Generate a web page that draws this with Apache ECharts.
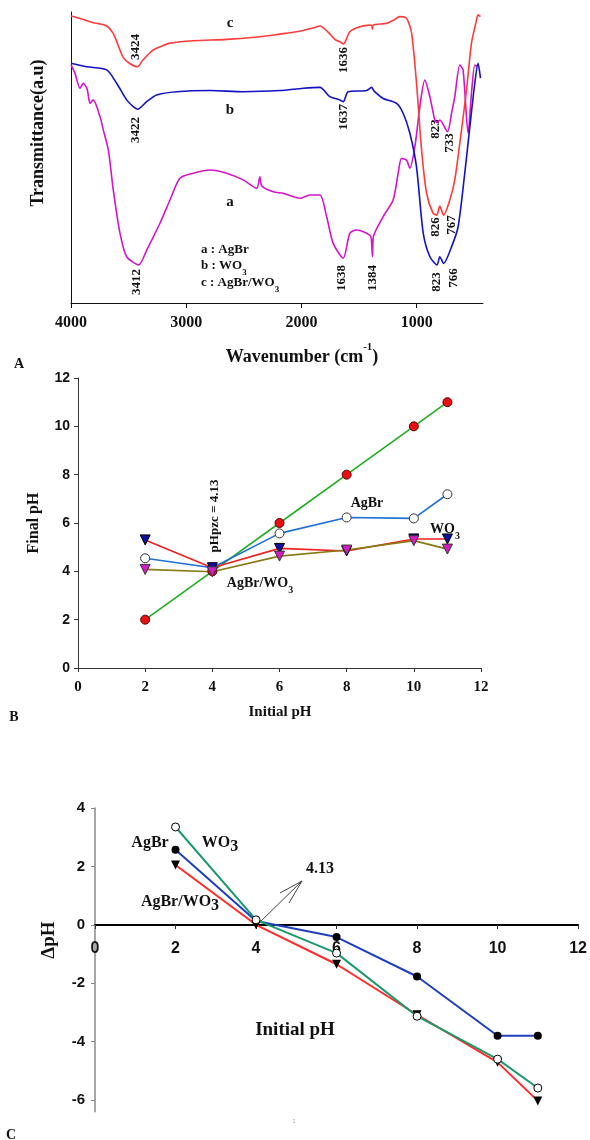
<!DOCTYPE html>
<html lang="en">
<head>
  <meta charset="UTF-8" />
  <title>FTIR spectra and pHpzc of AgBr, WO3 and AgBr/WO3</title>
  <script src="https://cdn.jsdelivr.net/npm/echarts@6/dist/echarts.min.js"></script>
  <style>
    html, body { margin: 0; padding: 0; background: #fff; }
    #chart { width: 590px; height: 1140px; }
  </style>
</head>
<body>
  <div id="chart"></div>
  <script>
    // ---- panel A: FTIR spectra, [wavenumber, transmittance (a.u.)] ----
    var specAgBr = [[4000,81.8],[3965,78.9],[3922,73.8],[3893,75.5],[3860,73.5],[3835,68.6],[3807,69.8],[3748,64.0],[3720,59.5],[3676,52.6],[3633,38.8],[3575,24.0],[3517,15.9],[3412,13.1],[3343,18.2],[3228,27.4],[3141,35.4],[3055,42.9],[2939,44.6],[2794,45.7],[2650,44.6],[2506,42.3],[2389,39.4],[2361,43.4],[2344,40.2],[2245,38.2],[2159,37.7],[2014,36.0],[1927,37.1],[1840,37.1],[1782,29.7],[1725,20.5],[1638,15.4],[1580,24.0],[1522,25.1],[1435,24.0],[1398,22.8],[1384,15.9],[1376,22.8],[1291,29.7],[1205,35.4],[1161,44.6],[1132,49.7],[1088,49.1],[1060,46.3],[1016,53.7],[973,67.5],[930,76.6],[886,70.9],[843,62.9],[823,62.0],[800,62.9],[733,58.9],[698,65.2],[670,70.9],[626,81.8],[598,80.1],[554,58.3],[525,72.1],[496,81.8],[476,81.2]];
    var specWO3 = [[4000,82.4],[3864,81.2],[3690,80.1],[3604,75.5],[3517,69.8],[3460,67.5],[3422,66.6],[3343,69.2],[3257,71.5],[3083,72.6],[2794,73.0],[2506,72.6],[2187,73.0],[1985,73.8],[1840,74.1],[1754,70.9],[1682,70.0],[1637,69.2],[1595,72.6],[1435,73.0],[1392,74.1],[1372,72.9],[1291,70.3],[1175,68.6],[1118,65.2],[1060,58.4],[1002,46.8],[944,24.1],[886,15.9],[823,13.1],[800,15.9],[766,13.6],[698,19.3],[641,26.2],[583,44.7],[539,60.6],[496,75.6],[468,82.4],[447,77.3]];
    var specComp = [[4000,98.6],[3900,97.5],[3807,96.3],[3760,96.0],[3690,95.2],[3636,92.8],[3590,88.5],[3549,84.5],[3490,82.3],[3424,81.2],[3376,83.5],[3289,86.9],[3200,88.5],[3141,89.3],[2942,90.1],[2647,90.6],[2361,91.5],[2187,92.4],[2043,93.2],[1900,94.5],[1840,95.2],[1771,93.2],[1710,90.6],[1660,89.6],[1636,89.0],[1580,93.2],[1494,94.9],[1407,95.5],[1390,95.3],[1384,94.1],[1378,95.5],[1262,96.1],[1200,97.2],[1147,98.4],[1088,97.8],[1045,92.8],[1002,75.6],[958,52.6],[915,37.8],[858,30.8],[826,30.2],[800,33.3],[767,30.2],[713,35.4],[670,42.3],[626,55.0],[568,73.2],[525,89.3],[481,97.3],[468,99.0],[447,98.4]];
    var wnTicks = [4000, 3000, 2000, 1000];

    // ---- panel B: final pH vs initial pH ----
    var initialPH = [2, 4, 6, 8, 10, 11];
    var finalBlank = [2, 4, 6, 8, 10, 11];
    var finalAgBr = [4.54, 4.15, 5.57, 6.23, 6.19, 7.19];
    var finalWO3 = [5.30, 4.15, 4.95, 4.84, 5.34, 5.34];
    var finalComp = [4.08, 3.98, 4.63, 4.88, 5.27, 4.92];

    // ---- panel C: delta pH vs initial pH ----
    var deltaAgBr = [2.57, 0.13, -0.42, -1.77, -3.80, -3.80];
    var deltaWO3 = [3.35, 0.17, -0.97, -3.13, -4.60, -5.59];
    var deltaComp = [2.05, 0.00, -1.35, -3.08, -4.71, -6.03];
    var deltaTicks = [-6, -4, -2, 0, 2, 4];

    var SERIF = '"Liberation Serif", "Times New Roman", serif';
    var SANS = '"Liberation Sans", Arial, sans-serif';

    function pairs(xs, ys) {
      return xs.map(function(x, i) { return [x, ys[i]]; });
    }
    function plain(v) { return String(v); }

    function txt(x, y, text, size, o) {
      o = o || {};
      var style = {
        text: text,
        fontSize: size,
        fontWeight: 'bold',
        fontFamily: o.family || SERIF,
        fill: o.color || '#111',
        align: o.align || 'center',
        textAlign: o.align || 'center',
        verticalAlign: 'middle',
        textVerticalAlign: 'middle'
      };
      if (o.rich) style.rich = o.rich;
      return { type: 'text', x: x, y: y, rotation: o.rot || 0, silent: true, style: style };
    }

    // rich styles for sub/superscripts
    function subRich(size, subSize, drop) {
      return {
        n: { fontSize: size, fontWeight: 'bold', fontFamily: SERIF, lineHeight: size + drop * 2, fill: '#111' },
        s: { fontSize: subSize, fontWeight: 'bold', fontFamily: SERIF, lineHeight: subSize, verticalAlign: 'bottom', fill: '#111' },
        u: { fontSize: subSize, fontWeight: 'bold', fontFamily: SERIF, lineHeight: subSize, verticalAlign: 'top', fill: '#111' }
      };
    }

    function line(x1, y1, x2, y2) {
      return { type: 'line', silent: true, shape: { x1: x1, y1: y1, x2: x2, y2: y2 },
        style: { stroke: '#444', lineWidth: 1 } };
    }

    var UP = Math.PI / 2;
    var r13 = subRich(13, 9, 5);
    var r14 = subRich(14, 10, 5);
    var r16 = subRich(16, 16, 4);
    var r18 = subRich(18, 11, 6);

    var graphics = [
      // panel A
      txt(38, 133, 'Transmittance(a.u)', 18, { rot: UP }),
      txt(302, 357, '{n|Wavenumber (cm}{u|-1}{n|)}', 18, { rich: r18 }),
      txt(19, 364, 'A', 14),
      txt(230, 23, 'c', 15), txt(230, 110, 'b', 15), txt(230, 202, 'a', 15),
      txt(136, 47, '3424', 13, { rot: UP }),
      txt(136, 130, '3422', 13, { rot: UP }),
      txt(137, 282, '3412', 13, { rot: UP }),
      txt(344, 60, '1636', 13, { rot: UP }),
      txt(344, 117, '1637', 13, { rot: UP }),
      txt(342, 278, '1638', 13, { rot: UP }),
      txt(373, 278, '1384', 13, { rot: UP }),
      txt(436, 129, '823', 13, { rot: UP }),
      txt(450, 143, '733', 13, { rot: UP }),
      txt(436, 227, '826', 13, { rot: UP }),
      txt(452, 225, '767', 13, { rot: UP }),
      txt(437, 282, '823', 13, { rot: UP }),
      txt(454, 278, '766', 13, { rot: UP }),
      txt(201, 250, 'a : AgBr', 13, { align: 'left' }),
      txt(201, 266, '{n|b : WO}{s|3}', 13, { align: 'left', rich: r13 }),
      txt(201, 283, '{n|c : AgBr/WO}{s|3}', 13, { align: 'left', rich: r13 }),
      // panel B
      txt(34, 523, 'Final pH', 16, { rot: UP }),
      txt(280, 712, 'Initial pH', 15),
      txt(14, 717, 'B', 14),
      txt(215, 516, 'pHpzc = 4.13', 13, { rot: UP }),
      txt(367, 503, 'AgBr', 14),
      txt(445, 529, '{n|WO}{s|3}', 14, { rich: r14 }),
      txt(260, 583, '{n|AgBr/WO}{s|3}', 14, { rich: r14 }),
      // panel C
      txt(49, 940, '\u0394pH', 19, { rot: UP }),
      txt(295, 1030, 'Initial pH', 19),
      txt(11, 1135, 'C', 14),
      txt(150, 843, 'AgBr', 16),
      txt(220, 843, '{n|WO}{s|3}', 16, { rich: r16 }),
      txt(320, 869, '4.13', 16),
      txt(180, 902, '{n|AgBr/WO}{s|3}', 16, { rich: r16 }),
      txt(294, 1121, ':', 8, { color: '#999' }),
      line(259, 923, 302, 881),
      line(302, 881, 280, 893),
      line(302, 881, 289, 903)
    ];

    var chart = echarts.init(document.getElementById('chart'), null, { renderer: 'canvas' });

    var option = {
      animation: false,
      backgroundColor: '#fff',
      grid: [
        { left: 71, top: 12, width: 412, height: 291 },
        { left: 78, top: 378, width: 403, height: 290 },
        { left: 95, top: 808, width: 485, height: 303.7 }
      ],
      xAxis: [
        {
          gridIndex: 0, type: 'value', min: 425, max: 4000, inverse: true,
          axisLine: { lineStyle: { color: '#111', width: 1 } },
          axisTick: { inside: false, length: 5, customValues: wnTicks, lineStyle: { color: '#111' } },
          axisLabel: { customValues: wnTicks, formatter: plain, margin: 12, fontSize: 16, fontWeight: 'bold', fontFamily: SERIF, color: '#111' },
          splitLine: { show: false }
        },
        {
          gridIndex: 1, type: 'value', min: 0, max: 12, interval: 2,
          axisLine: { lineStyle: { color: '#333', width: 1 } },
          axisTick: { length: 4, lineStyle: { color: '#333' } },
          axisLabel: { margin: 12, fontSize: 15, fontWeight: 'bold', fontFamily: SERIF, color: '#111' },
          splitLine: { show: false }
        },
        {
          // sits on the zero line of the delta pH axis (y = 0 is 186.7px above the grid bottom)
          gridIndex: 2, type: 'value', min: 0, max: 12, interval: 2, position: 'bottom', offset: -186.7,
          axisLine: { onZero: false, lineStyle: { color: '#000', width: 2 } },
          axisTick: { show: true, length: 4, lineStyle: { color: '#333', width: 1 } },
          axisLabel: { margin: 16, fontSize: 16, fontWeight: 'bold', fontFamily: SANS, color: '#111' },
          splitLine: { show: false }
        }
      ],
      yAxis: [
        {
          gridIndex: 0, type: 'value', min: 0, max: 100,
          axisLine: { show: true, lineStyle: { color: '#111', width: 1 } },
          axisTick: { show: false }, axisLabel: { show: false }, splitLine: { show: false }
        },
        {
          gridIndex: 1, type: 'value', min: 0, max: 12, interval: 2,
          axisLine: { show: true, lineStyle: { color: '#333', width: 1 } },
          axisTick: { show: true, length: 4, lineStyle: { color: '#333' } },
          axisLabel: { margin: 8, fontSize: 14, fontWeight: 'bold', fontFamily: SANS, color: '#111' },
          splitLine: { show: false }
        },
        {
          gridIndex: 2, type: 'value', min: -6.4, max: 4,
          axisLine: { show: true, onZero: false, lineStyle: { color: '#888', width: 1.5 } },
          axisTick: { show: true, length: 4, customValues: deltaTicks, lineStyle: { color: '#888' } },
          axisLabel: { customValues: deltaTicks, margin: 10, fontSize: 15, fontWeight: 'bold', fontFamily: SANS, color: '#111' },
          splitLine: { show: false }
        }
      ],
      graphic: graphics,
      series: [
        // panel A
        { name: 'AgBr', type: 'line', xAxisIndex: 0, yAxisIndex: 0, data: specAgBr, showSymbol: false, smooth: 0.25,
          lineStyle: { color: '#d414c8', width: 1.6 }, itemStyle: { color: '#d414c8' } },
        { name: 'WO3', type: 'line', xAxisIndex: 0, yAxisIndex: 0, data: specWO3, showSymbol: false, smooth: 0.25,
          lineStyle: { color: '#1212c4', width: 1.6 }, itemStyle: { color: '#1212c4' } },
        { name: 'AgBr/WO3', type: 'line', xAxisIndex: 0, yAxisIndex: 0, data: specComp, showSymbol: false, smooth: 0.25,
          lineStyle: { color: '#ff3a3a', width: 1.6 }, itemStyle: { color: '#ff3a3a' } },
        // panel B
        { name: 'blank', type: 'line', xAxisIndex: 1, yAxisIndex: 1, data: pairs(initialPH, finalBlank),
          symbol: 'circle', symbolSize: 9, lineStyle: { color: '#1fae1f', width: 1.6 },
          itemStyle: { color: '#e81010', borderColor: '#5a0000', borderWidth: 1 } },
        { name: 'AgBr', type: 'line', xAxisIndex: 1, yAxisIndex: 1, data: pairs(initialPH, finalAgBr),
          symbol: 'circle', symbolSize: 9, lineStyle: { color: '#1f6fd6', width: 1.6 },
          itemStyle: { color: '#fff', borderColor: '#333', borderWidth: 1 } },
        { name: 'WO3', type: 'line', xAxisIndex: 1, yAxisIndex: 1, data: pairs(initialPH, finalWO3),
          symbol: 'triangle', symbolRotate: 180, symbolSize: 10, lineStyle: { color: '#f02020', width: 1.6 },
          itemStyle: { color: '#1010a0', borderColor: '#000', borderWidth: 1 } },
        { name: 'AgBr/WO3', type: 'line', xAxisIndex: 1, yAxisIndex: 1, data: pairs(initialPH, finalComp),
          symbol: 'triangle', symbolRotate: 180, symbolSize: 10, lineStyle: { color: '#877a14', width: 1.6 },
          itemStyle: { color: '#d41cc4', borderColor: '#333', borderWidth: 1 } },
        // panel C
        { name: 'AgBr/WO3', type: 'line', xAxisIndex: 2, yAxisIndex: 2, data: pairs(initialPH, deltaComp),
          symbol: 'triangle', symbolRotate: 180, symbolSize: 9, lineStyle: { color: '#ff2a2a', width: 2 },
          itemStyle: { color: '#000' } },
        { name: 'AgBr', type: 'line', xAxisIndex: 2, yAxisIndex: 2, data: pairs(initialPH, deltaAgBr),
          symbol: 'circle', symbolSize: 8, lineStyle: { color: '#1e40c0', width: 2 },
          itemStyle: { color: '#000' } },
        { name: 'WO3', type: 'line', xAxisIndex: 2, yAxisIndex: 2, data: pairs(initialPH, deltaWO3),
          symbol: 'circle', symbolSize: 8, lineStyle: { color: '#1a9a6a', width: 2 },
          itemStyle: { color: '#fff', borderColor: '#000', borderWidth: 1 } }
      ]
    };

    chart.setOption(option);
  </script>
</body>
</html>
